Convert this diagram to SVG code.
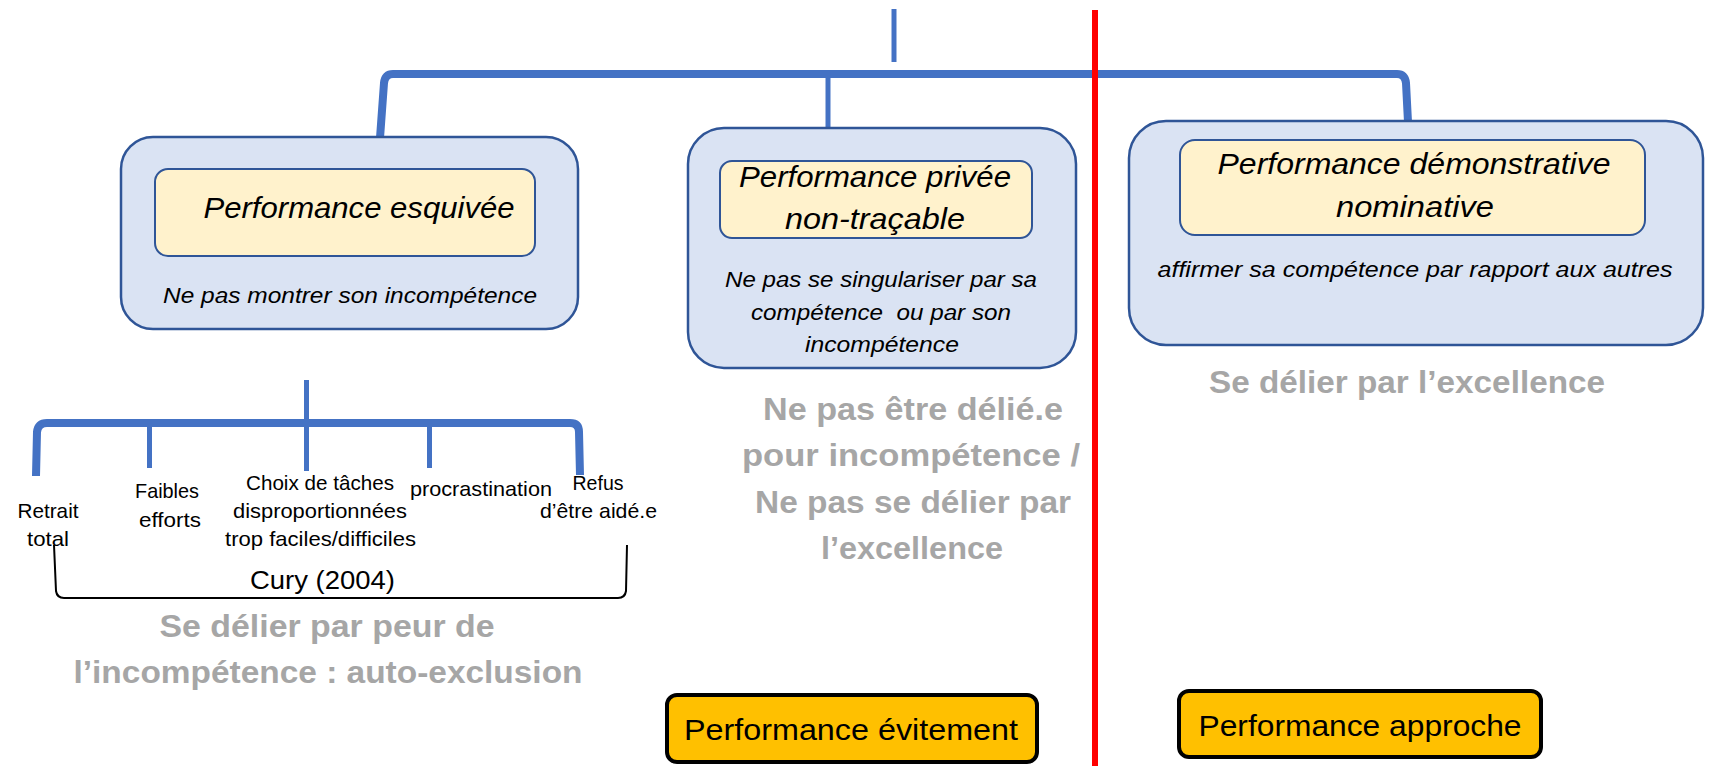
<svg xmlns="http://www.w3.org/2000/svg" width="1709" height="771" viewBox="0 0 1709 771">
<style>
.outer{fill:#DAE3F3;stroke:#2F5597;stroke-width:2.5}
.inner{fill:#FFF2CC;stroke:#2F5597;stroke-width:2}
text{font-family:"Liberation Sans",Arial,sans-serif;text-anchor:middle;fill:#000}
.title{font-style:italic;font-size:29px}
.body{font-style:italic;font-size:22px}
.lbl{font-size:21px}
.cury{font-size:26px}
.grey{font-weight:bold;font-size:32px;fill:#A6A6A6}
.btn{fill:#FFC000;stroke:#000;stroke-width:4}
.btnt{font-size:30px}
.conn{stroke:#4472C4;fill:none}
.thick{stroke-width:8}
.thin{stroke-width:5}
</style>
<rect width="1709" height="771" fill="#FFFFFF"/>
<g id="connectors">
<line class="conn thin" x1="894" y1="9" x2="894" y2="62"/>
<path class="conn thick" d="M380 138 L384 83 Q385 74 393 74 L1397 74 Q1405 74 1406 83 L1408 122"/>
<line class="conn thin" x1="828" y1="74" x2="828" y2="129"/>
<line class="conn thin" x1="306.5" y1="380" x2="306.5" y2="471"/>
<path class="conn thick" d="M36 476 L37 432 Q38 423 47 423 L570 423 Q579 423 579 432 L580 475"/>
<line class="conn thin" x1="149.5" y1="423" x2="149.5" y2="468"/>
<line class="conn thin" x1="429.5" y1="423" x2="429.5" y2="468"/>
<path d="M54 545 L56 591 Q57 598 64 598 L618 598 Q625 598 626 591 L627 545" fill="none" stroke="#000" stroke-width="2"/>
</g>
<g id="node-esquivee">
<rect class="outer" x="121" y="137" width="457" height="192" rx="32"/>
<rect class="inner" x="155" y="169" width="380" height="87" rx="13"/>
<text class="title" x="359" y="218" textLength="311" lengthAdjust="spacingAndGlyphs">Performance esquivée</text>
<text class="body" x="350" y="303" textLength="374" lengthAdjust="spacingAndGlyphs">Ne pas montrer son incompétence</text>
</g>
<g id="node-privee">
<rect class="outer" x="688" y="128" width="388" height="240" rx="36"/>
<rect class="inner" x="720" y="161" width="312" height="77" rx="12"/>
<text class="title" x="875" y="187" textLength="272" lengthAdjust="spacingAndGlyphs">Performance privée</text>
<text class="title" x="875" y="229" textLength="180" lengthAdjust="spacingAndGlyphs">non-traçable</text>
<text class="body" x="881" y="287" textLength="312" lengthAdjust="spacingAndGlyphs">Ne pas se singulariser par sa</text>
<text class="body" x="881" y="320" textLength="260" lengthAdjust="spacingAndGlyphs" xml:space="preserve">compétence  ou par son</text>
<text class="body" x="882" y="352" textLength="154" lengthAdjust="spacingAndGlyphs">incompétence</text>
</g>
<g id="node-demonstrative">
<rect class="outer" x="1129" y="121" width="574" height="224" rx="37"/>
<rect class="inner" x="1180" y="140" width="465" height="95" rx="15"/>
<text class="title" x="1414" y="174" textLength="393" lengthAdjust="spacingAndGlyphs">Performance démonstrative</text>
<text class="title" x="1415" y="217" textLength="158" lengthAdjust="spacingAndGlyphs">nominative</text>
<text class="body" x="1415" y="277" textLength="515" lengthAdjust="spacingAndGlyphs">affirmer sa compétence par rapport aux autres</text>
</g>
<g id="label-excellence">
<text class="grey" x="1407" y="393" textLength="396" lengthAdjust="spacingAndGlyphs">Se délier par l’excellence</text>
</g>
<g id="label-ne-pas-etre">
<text class="grey" x="913" y="420" textLength="300" lengthAdjust="spacingAndGlyphs">Ne pas être délié.e</text>
<text class="grey" x="911" y="466" textLength="338" lengthAdjust="spacingAndGlyphs">pour incompétence /</text>
<text class="grey" x="913" y="513" textLength="316" lengthAdjust="spacingAndGlyphs">Ne pas se délier par</text>
<text class="grey" x="912" y="559" textLength="182" lengthAdjust="spacingAndGlyphs">l’excellence</text>
</g>
<g id="label-peur">
<text class="grey" x="327" y="637" textLength="335" lengthAdjust="spacingAndGlyphs">Se délier par peur de</text>
<text class="grey" x="328" y="683" textLength="509" lengthAdjust="spacingAndGlyphs">l’incompétence : auto-exclusion</text>
</g>
<g id="leaf-retrait">
<text class="lbl" x="48" y="518" textLength="61" lengthAdjust="spacingAndGlyphs">Retrait</text>
<text class="lbl" x="48" y="546" textLength="42" lengthAdjust="spacingAndGlyphs">total</text>
</g>
<g id="leaf-faibles">
<text class="lbl" x="167" y="498" textLength="64" lengthAdjust="spacingAndGlyphs">Faibles</text>
<text class="lbl" x="170" y="527" textLength="62" lengthAdjust="spacingAndGlyphs">efforts</text>
</g>
<g id="leaf-choix">
<text class="lbl" x="320" y="490" textLength="148" lengthAdjust="spacingAndGlyphs">Choix de tâches</text>
<text class="lbl" x="320" y="518" textLength="174" lengthAdjust="spacingAndGlyphs">disproportionnées</text>
<text class="lbl" x="320.5" y="546" textLength="191" lengthAdjust="spacingAndGlyphs">trop faciles/difficiles</text>
</g>
<g id="leaf-procrastination">
<text class="lbl" x="481" y="496" textLength="142" lengthAdjust="spacingAndGlyphs">procrastination</text>
</g>
<g id="leaf-refus">
<text class="lbl" x="598" y="490" textLength="51" lengthAdjust="spacingAndGlyphs">Refus</text>
<text class="lbl" x="598.5" y="518" textLength="117" lengthAdjust="spacingAndGlyphs">d’être aidé.e</text>
</g>
<g id="label-cury">
<text class="cury" x="322.5" y="589" textLength="145" lengthAdjust="spacingAndGlyphs">Cury (2004)</text>
</g>
<g id="divider">
<line x1="1095" y1="10" x2="1095" y2="766" stroke="#FF0000" stroke-width="6"/>
</g>
<g id="btn-evitement">
<rect class="btn" x="667" y="695" width="370" height="67" rx="10"/>
<text class="btnt" x="851" y="740" textLength="334" lengthAdjust="spacingAndGlyphs">Performance évitement</text>
</g>
<g id="btn-approche">
<rect class="btn" x="1179" y="691" width="362" height="66" rx="10"/>
<text class="btnt" x="1360" y="736" textLength="323" lengthAdjust="spacingAndGlyphs">Performance approche</text>
</g>
</svg>
